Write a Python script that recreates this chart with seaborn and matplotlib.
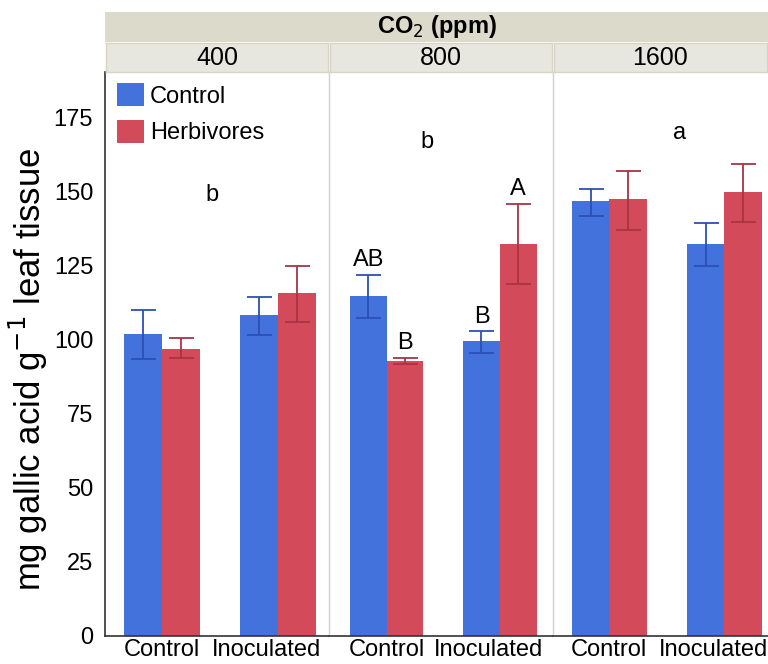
import matplotlib
matplotlib.use("Agg")
import matplotlib.pyplot as plt
import matplotlib.transforms as mtransforms
import seaborn as sns
import pandas as pd
import numpy as np

# ---- data ----
co2_levels = ["400", "800", "1600"]
treatments = ["Control", "Inoculated"]
herb_groups = ["Control", "Herbivores"]

ctrl_mean = [102.0, 108.5, 115.0, 99.5, 147.0, 132.5]
ctrl_lo = [93.5, 101.5, 107.5, 95.5, 142.0, 125.0]
ctrl_hi = [110.0, 114.5, 122.0, 103.0, 151.0, 139.5]
herb_mean = [97.0, 116.0, 93.0, 132.5, 147.5, 150.0]
herb_lo = [94.0, 106.0, 92.0, 119.0, 137.0, 140.0]
herb_hi = [100.5, 125.0, 94.0, 146.0, 157.0, 159.5]

group_letters = ["b", "b", "a"]
group_letter_x = [0.43, 0.36, 0.61]
group_letter_y = [149.0, 167.0, 170.0]
# pairwise letters in the 800 panel: (treatment index, herb group index, label)
pair_letters = [(0, 0, "AB"), (0, 1, "B"), (1, 0, "B"), (1, 1, "A")]

rows = []
for i, co2 in enumerate(co2_levels):
    for j, tr in enumerate(treatments):
        k = i * 2 + j
        rows.append(dict(co2=co2, treatment=tr, herb="Control", mean=ctrl_mean[k], lo=ctrl_lo[k], hi=ctrl_hi[k]))
        rows.append(dict(co2=co2, treatment=tr, herb="Herbivores", mean=herb_mean[k], lo=herb_lo[k], hi=herb_hi[k]))
df = pd.DataFrame(rows)

sns.set_style("white")
plt.rcParams["font.family"] = ["Liberation Sans", "DejaVu Sans"]
for key in ["text.color", "axes.labelcolor", "xtick.color", "ytick.color"]:
    plt.rcParams[key] = "black"

bar_colors = {"Control": "#4472DC", "Herbivores": "#D34A5A"}
err_colors = {"Control": "#2C4FB5", "Herbivores": "#A83444"}

W, H = 768, 664
fig = plt.figure(figsize=(W / 100, H / 100), dpi=100)

panel_px = [(105, 329), (329, 553), (553, 768)]
xlims = [(-0.49, 1.44), (-0.51, 1.47), (-0.49, 1.38)]
y_top, y_bot = 72, 636
FS = 17

axes = []
for p, (x0, x1) in enumerate(panel_px):
    ax = fig.add_axes([x0 / W, 1 - y_bot / H, (x1 - x0) / W, (y_bot - y_top) / H])
    axes.append(ax)
    sub = df[df.co2 == co2_levels[p]]
    sns.barplot(data=sub, x="treatment", y="mean", hue="herb", order=treatments,
                hue_order=herb_groups, palette=bar_colors, errorbar=None,
                width=0.65, gap=0, saturation=1, ax=ax, legend=(p == 0),
                linewidth=0, edgecolor="none")
    for h, cont in zip(herb_groups, ax.containers):
        for j, bar in enumerate(cont):
            r = sub[(sub.treatment == treatments[j]) & (sub.herb == h)].iloc[0]
            xc = bar.get_x() + bar.get_width() / 2
            ax.errorbar(xc, r["mean"], yerr=[[r["mean"] - r["lo"]], [r["hi"] - r["mean"]]],
                        fmt="none", ecolor=err_colors[h], elinewidth=1.3, capsize=9,
                        capthick=1.3, zorder=3)
    ax.set_xlim(*xlims[p])
    ax.set_ylim(0, 190.5)
    ax.set_xlabel("")
    ax.tick_params(axis="x", length=0, labelsize=FS, pad=2)
    # shift the "Inoculated" label slightly left, as in the reference
    lbls = ax.get_xticklabels()
    shift = mtransforms.ScaledTranslation(-11 / 100, 0, fig.dpi_scale_trans)
    lbls[1].set_transform(lbls[1].get_transform() + shift)
    ax.text(group_letter_x[p], group_letter_y[p], group_letters[p], ha="center",
            va="center", fontsize=FS)
    for s in ["top", "right"]:
        ax.spines[s].set_visible(False)
    ax.spines["bottom"].set_color("#333333")
    ax.spines["bottom"].set_linewidth(1.2)
    if p == 0:
        ax.set_ylabel("mg gallic acid g$^{-1}$ leaf tissue", fontsize=25)
        ax.yaxis.set_label_coords(-0.245, 0.472)
        ax.set_yticks([0, 25, 50, 75, 100, 125, 150, 175])
        ax.tick_params(axis="y", length=7, width=1, labelsize=FS, color="#333333", pad=1.5)
        ax.spines["left"].set_color("#333333")
        ax.spines["left"].set_linewidth(1.2)
        leg = ax.legend(loc="upper left", bbox_to_anchor=(12 / 224, 1 - 11 / 564),
                        frameon=False, fontsize=FS, handlelength=1.15, handleheight=1.15,
                        handletextpad=0.25, labelspacing=0.5, borderaxespad=0,
                        borderpad=0)
    else:
        ax.set_ylabel("")
        ax.tick_params(axis="y", left=False, labelleft=False)
        ax.spines["left"].set_color("#D0D0D0")
        ax.spines["left"].set_linewidth(1.0)
    if p == 1:
        for (j, hi_idx, lab) in pair_letters:
            cont = ax.containers[hi_idx]
            bar = cont[j]
            r = sub[(sub.treatment == treatments[j]) & (sub.herb == herb_groups[hi_idx])].iloc[0]
            ax.text(bar.get_x() + bar.get_width() / 2, r["hi"] + 1.2, lab,
                    ha="center", va="bottom", fontsize=FS)

# ---- strips ----
hdr = fig.add_axes([105 / W, 1 - 42 / H, (768 - 105) / W, 30 / H])
hdr.set_facecolor("#DCDACB")
hdr.set_xticks([]); hdr.set_yticks([])
for s in hdr.spines.values():
    s.set_visible(False)
hdr.text(0.5, 0.5, "CO$_2$ (ppm)", ha="center", va="center", fontsize=17,
         fontweight="bold", transform=hdr.transAxes)

for p, (x0, x1) in enumerate(panel_px):
    st = fig.add_axes([(x0 + 1) / W, 1 - 72 / H, (x1 - x0 - 2) / W, 29 / H])
    st.set_facecolor("#E8E7DF")
    st.set_xticks([]); st.set_yticks([])
    for s in st.spines.values():
        s.set_color("#D6D4C6")
        s.set_linewidth(1.0)
    st.text(0.5, 0.48, co2_levels[p], ha="center", va="center", fontsize=18,
            transform=st.transAxes)

fig.savefig("out.png", dpi=100)
